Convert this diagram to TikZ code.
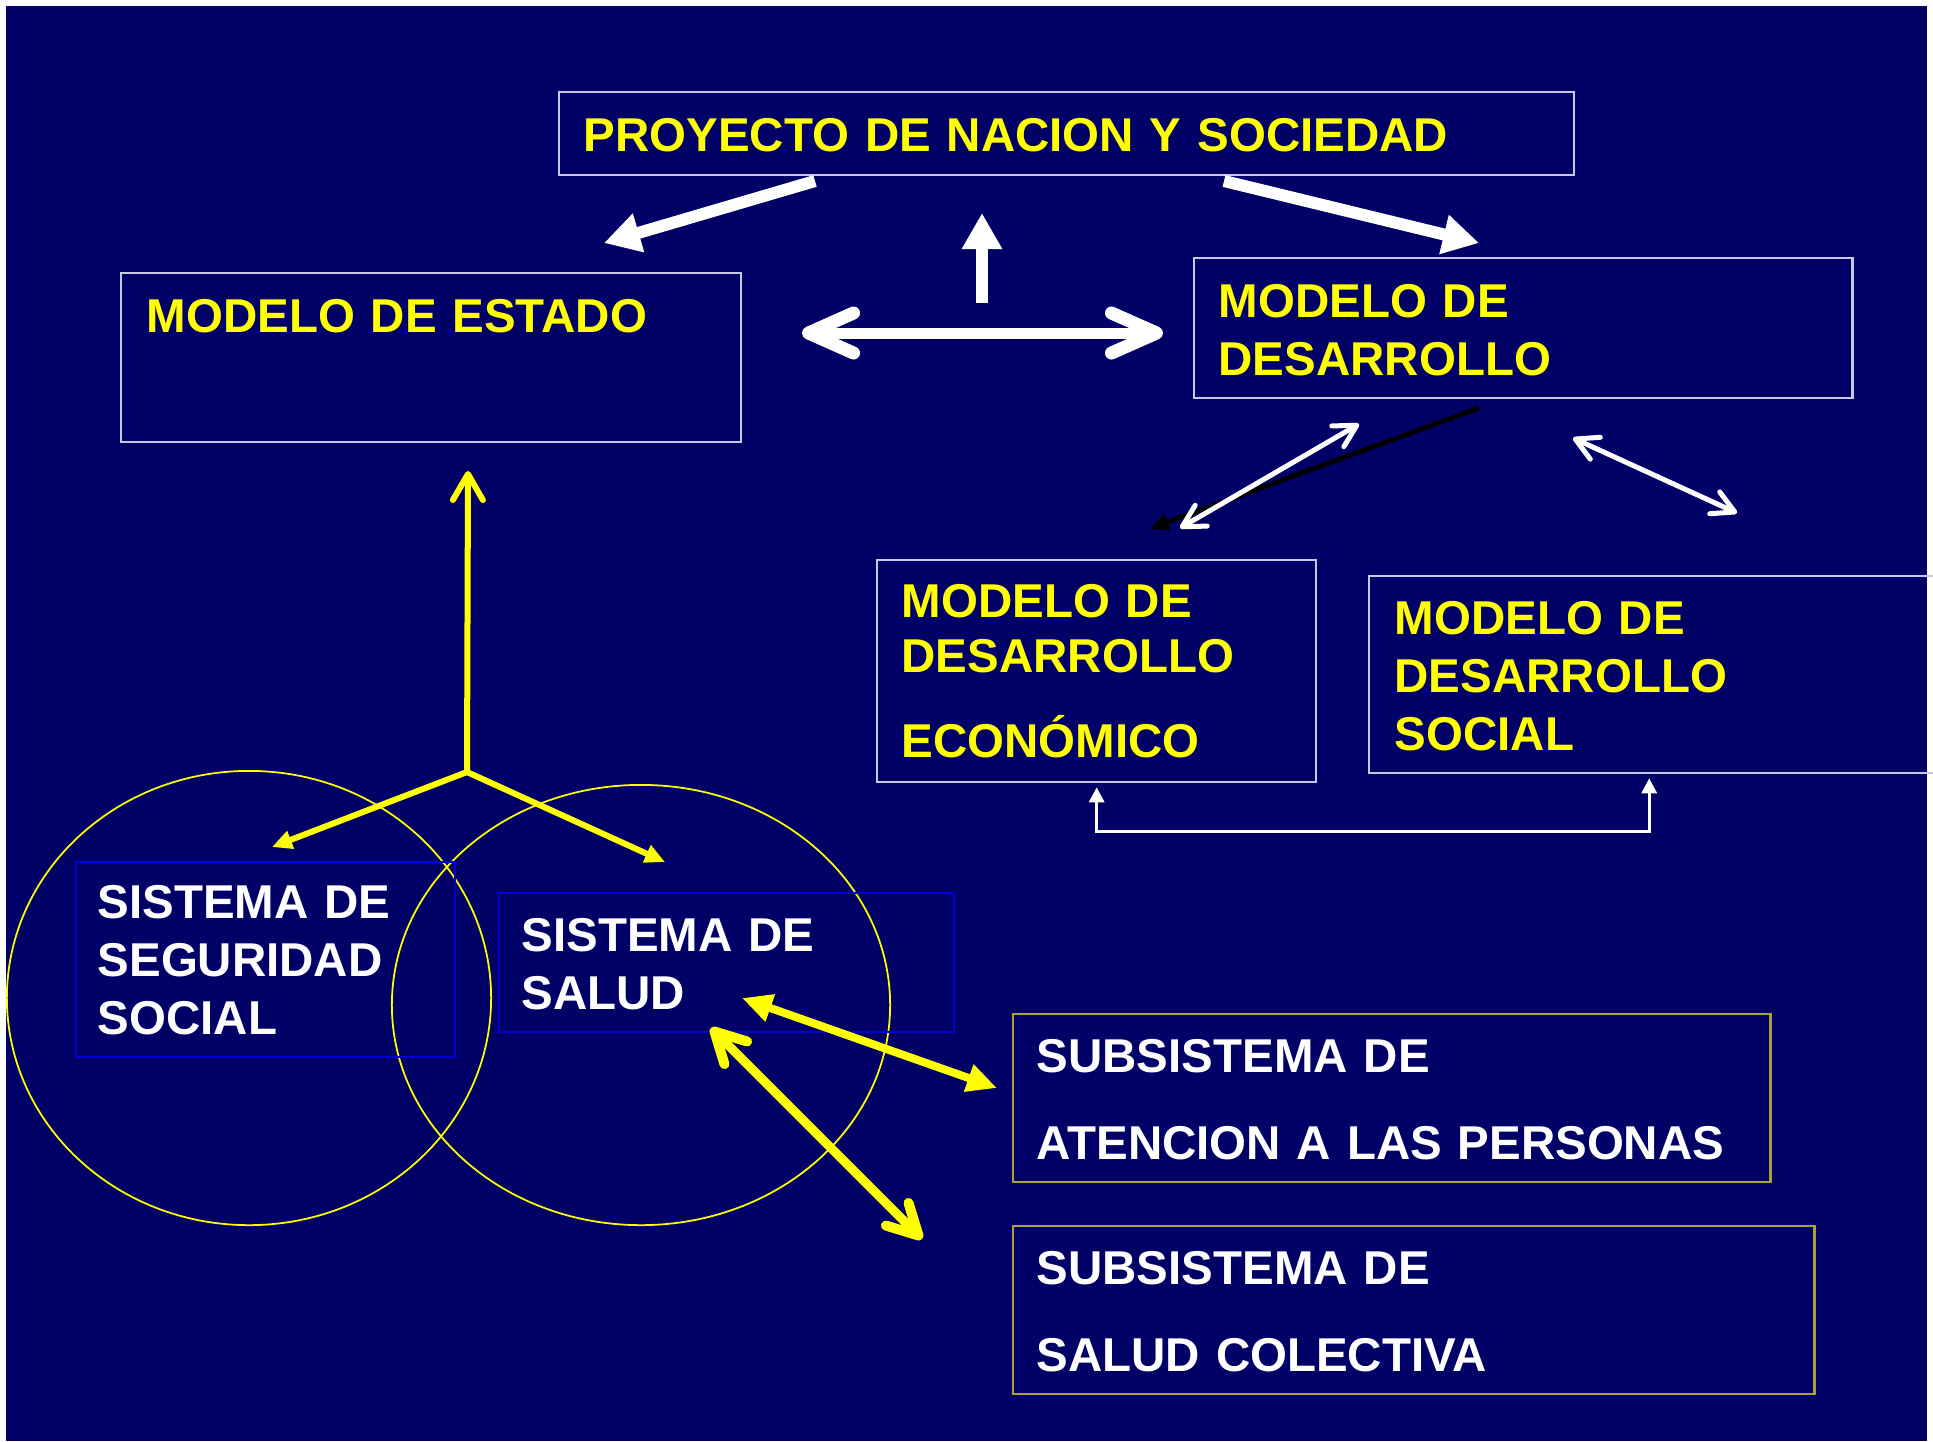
\documentclass[tikz,border=0pt]{standalone}
\usepackage{fontspec}
\setmainfont{Liberation Sans}
\usetikzlibrary{arrows.meta}
\definecolor{fondo}{RGB}{0,0,102}
\definecolor{marco}{RGB}{200,200,230}
\definecolor{azulmarco}{RGB}{0,0,210}
\definecolor{oliva}{RGB}{170,160,60}
\definecolor{amarillo}{RGB}{255,255,0}
\begin{document}
\begin{tikzpicture}[x=0.01cm, y=-0.01cm,
  caja/.style={draw=marco, line width=0.6pt, inner sep=0pt, anchor=north west},
  cajaazul/.style={caja, draw=azulmarco, line width=0.5pt},
  cajaoliva/.style={caja, draw=oliva, line width=0.6pt},
  texto/.style={font=\fontsize{13.5pt}{16.5pt}\selectfont\bfseries, text=amarillo, inner sep=0pt, anchor=base west, align=left, text width=9cm},
  textoblanco/.style={texto, text=white},
  bloque/.style={draw=white, line width=0.12cm, >={Triangle[length=0.36cm,width=0.38cm]}, ->},
  doble/.style={draw=white, line width=0.11cm, >={Straight Barb[round,length=0.45cm,width=0.4cm,line width=0.13cm]}, <->},
  fino/.style={draw=white, line width=0.05cm, >={Straight Barb[round,length=0.22cm,width=0.24cm]}, <->},
  conector/.style={draw=white, line width=0.03cm, >={Triangle[length=0.15cm,width=0.15cm]}, <->},
  amarilla/.style={draw=amarillo, line width=0.06cm, >={Triangle[length=0.2cm,width=0.18cm]}, ->},
  elipse/.style={draw=amarillo, line width=0.5pt}
]
\useasboundingbox (0,0) rectangle (1933,1441);
\fill[white] (0,0) rectangle (1933,1441);
\fill[fondo] (6,6) rectangle (1927,1441);

% circulos
\draw[elipse] (249,998) ellipse [x radius=2.42cm, y radius=2.27cm];
\draw[elipse] (641,1005) ellipse [x radius=2.49cm, y radius=2.2cm];

% cajas de arriba
\node[caja, minimum width=10.14cm, minimum height=0.83cm] (proyecto) at (558,91) {};
\node[texto] (proyectotxt) at (583,151) {PROYECTO DE NACION Y SOCIEDAD};
\node[caja, minimum width=6.2cm, minimum height=1.69cm] (estado) at (120,272) {};
\node[texto] (estadotxt) at (146,332) {MODELO DE ESTADO};
\node[caja, minimum width=6.58cm, minimum height=1.4cm] (desarrollo) at (1193,257) {};
\node[texto] (desarrollotxt) at (1218,317) {MODELO DE\\DESARROLLO};
\node[caja, minimum width=4.39cm, minimum height=2.22cm] (econ) at (876,559) {};
\node[texto] (econtxt) at (901,617) {MODELO DE\\[-0.85pt]DESARROLLO\\[7.7pt]ECONÓMICO};
\node[caja, minimum width=5.8cm, minimum height=1.97cm] (social) at (1368,575) {};
\node[texto] (socialtxt) at (1394,634) {MODELO DE\\DESARROLLO\\SOCIAL};

% cajas de abajo
\node[cajaazul, minimum width=3.79cm, minimum height=1.95cm] (seguridad) at (75,861) {};
\node[textoblanco] (seguridadtxt) at (97,918) {SISTEMA DE\\SEGURIDAD\\SOCIAL};
\node[cajaazul, minimum width=4.55cm, minimum height=1.39cm] (salud) at (498,892) {};
\node[textoblanco] (saludtxt) at (521,951) {SISTEMA DE\\SALUD};
\node[cajaoliva, minimum width=7.57cm, minimum height=1.68cm] (atencion) at (1012,1013) {};
\node[textoblanco] (atenciontxt) at (1036,1072) {SUBSISTEMA DE\\[8.25pt]ATENCION A LAS PERSONAS};
\node[cajaoliva, minimum width=8.01cm, minimum height=1.68cm] (colectiva) at (1012,1225) {};
\node[textoblanco] (colectivatxt) at (1036,1284) {SUBSISTEMA DE\\[8.25pt]SALUD COLECTIVA};

% puntas de flechas sueltas
\coordinate (pizq) at (815,181);
\coordinate (pder) at (1224,181);
\coordinate (aestado) at (604,243);
\coordinate (adesarrollo) at (1479,243);
\coordinate (arribaini) at (982,303);
\coordinate (arribafin) at (982,213);
\coordinate (hizq) at (802,333);
\coordinate (hder) at (1163,333);
\coordinate (negraini) at (1479,408);
\coordinate (negrafin) at (1149,529);
\coordinate (econarr) at (1359,424);
\coordinate (econab) at (1180,528);
\coordinate (socarr) at (1573,438);
\coordinate (socab) at (1737,513);
\coordinate (cruce) at (467,772);
\coordinate (haciaestado) at (468,471);
\coordinate (haciaseg) at (272,847);
\coordinate (haciasalud) at (665,862);
\coordinate (saluda) at (742,998);
\coordinate (atenc) at (997,1088);
\coordinate (saludb) at (711,1028);
\coordinate (colect) at (922,1239);

% flechas blancas
\draw[bloque] (pizq) -- (aestado);
\draw[bloque] (pder) -- (adesarrollo);
\draw[bloque] (arribaini) -- (arribafin);
\draw[doble] (hizq) -- (hder);
\draw[draw=black, line width=0.05cm, -{Triangle[length=0.2cm,width=0.16cm]}] (negraini) -- (negrafin);
\draw[fino] (econab) -- (econarr);
\draw[fino] (socarr) -- (socab);
\draw[conector] ([yshift=-0.04cm]econ.south) -- ++(0,44) -| ([xshift=-0.1cm,yshift=-0.04cm]social.south);

% flechas amarillas
\draw[amarilla, >={Straight Barb[round,length=0.26cm,width=0.3cm]}] (cruce) -- (haciaestado);
\draw[amarilla] (cruce) -- (haciaseg);
\draw[amarilla] (cruce) -- (haciasalud);
\draw[amarilla, line width=0.08cm, >={Triangle[length=0.3cm,width=0.27cm]}, <->] (saluda) -- (atenc);
\draw[amarilla, line width=0.09cm, >={Straight Barb[round,length=0.3cm,width=0.32cm,line width=0.1cm]}, <->] (saludb) -- (colect);
\end{tikzpicture}
\end{document}
